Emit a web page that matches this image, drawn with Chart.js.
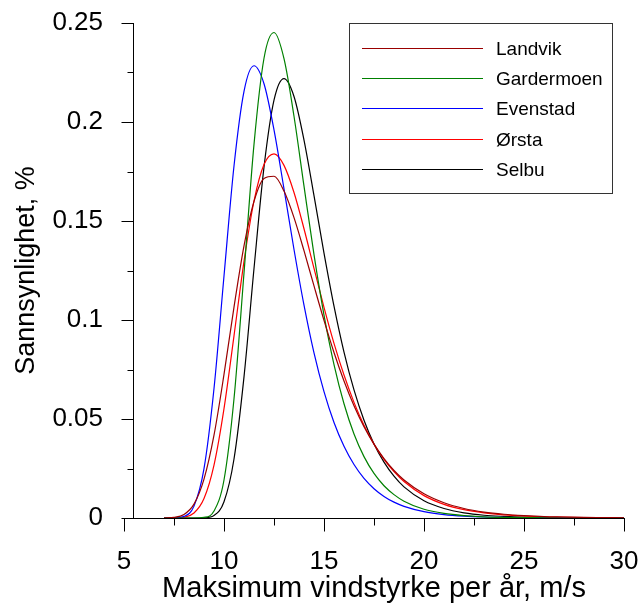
<!DOCTYPE html>
<html>
<head>
<meta charset="utf-8">
<script src="https://cdn.jsdelivr.net/npm/chart.js@4"></script>
<style>
  body { margin: 0; background: #fff; }
</style>
</head>
<body>
<canvas id="chart" width="640" height="606"></canvas>
<script>
const windSpeed = [7, 7.5, 8, 8.5, 9, 9.5, 10, 10.5, 11, 11.5, 12, 12.5, 13, 13.5, 14, 14.5, 15, 15.5, 16, 16.5, 17, 17.5, 18, 18.5, 19, 20, 21, 22, 23, 24, 25, 26, 27, 28, 29, 30];

const landvik = [0, 0.0003, 0.0018, 0.0070, 0.0196, 0.0418, 0.0725, 0.1065, 0.1374, 0.1599, 0.1715, 0.1726, 0.1651, 0.1517, 0.1350, 0.1172, 0.0998, 0.0836, 0.0692, 0.0567, 0.0461, 0.0373, 0.0300, 0.0240, 0.0192, 0.0122, 0.0077, 0.0048, 0.0030, 0.0019, 0.0012, 0.0007, 0.0005, 0.0003, 0.0002, 0.0001];
const gardermoen = [0, 0, 0, 0, 0.0003, 0.0035, 0.0192, 0.0602, 0.1237, 0.1887, 0.2322, 0.2452, 0.2320, 0.2029, 0.1676, 0.1330, 0.1025, 0.0775, 0.0577, 0.0424, 0.0310, 0.0225, 0.0163, 0.0118, 0.0085, 0.0044, 0.0023, 0.0012, 0.0006, 0.0003, 0.0002, 0.0001, 0, 0, 0, 0];
const evenstad = [0, 0, 0.0008, 0.0060, 0.0249, 0.0654, 0.1222, 0.1778, 0.2155, 0.2284, 0.2193, 0.1960, 0.1662, 0.1356, 0.1075, 0.0834, 0.0638, 0.0482, 0.0362, 0.0270, 0.0200, 0.0148, 0.0109, 0.0080, 0.0059, 0.0032, 0.0017, 0.0009, 0.0005, 0.0003, 0.0001, 0.0001, 0, 0, 0, 0];
const orsta = [0, 0, 0.0004, 0.0025, 0.0098, 0.0267, 0.0552, 0.0920, 0.1296, 0.1601, 0.1785, 0.1839, 0.1781, 0.1644, 0.1461, 0.1261, 0.1064, 0.0882, 0.0722, 0.0584, 0.0468, 0.0373, 0.0296, 0.0234, 0.0184, 0.0113, 0.0069, 0.0042, 0.0026, 0.0016, 0.0010, 0.0006, 0.0004, 0.0002, 0.0001, 0.0001];
const selbu = [0, 0, 0, 0, 0.0001, 0.0013, 0.0082, 0.0298, 0.0713, 0.1260, 0.1772, 0.2110, 0.2219, 0.2129, 0.1909, 0.1628, 0.1338, 0.1070, 0.0838, 0.0647, 0.0494, 0.0374, 0.0282, 0.0211, 0.0157, 0.0087, 0.0048, 0.0026, 0.0014, 0.0008, 0.0004, 0.0002, 0.0001, 0.0001, 0, 0];

const stations = ['Landvik', 'Gardermoen', 'Evenstad', 'Ørsta', 'Selbu'];
const colors = ['#990000', '#008000', '#0000ff', '#ff0000', '#000000'];
const series = [landvik, gardermoen, evenstad, orsta, selbu];

const xMajorTicks = [5, 10, 15, 20, 25, 30];
const xMinorTicks = [7.5, 12.5, 17.5, 22.5, 27.5];
const yMajorTicks = [0, 0.05, 0.1, 0.15, 0.2, 0.25];
const yMinorTicks = [0.025, 0.075, 0.125, 0.175, 0.225];

const font = 'Arial, "Liberation Sans", sans-serif';

// y axis line sits a little right of x = 5, ticks point outwards
const axisPlugin = {
    id: 'axisTicks',
    afterDraw(chart) {
        const { ctx, chartArea, scales: { x, y } } = chart;
        ctx.save();
        ctx.strokeStyle = '#000';
        ctx.lineWidth = 1;
        const ax = Math.round(chartArea.left + 9) + 0.5;
        const by = Math.round(chartArea.bottom) + 0.5;
        ctx.beginPath();
        ctx.moveTo(ax, y.getPixelForValue(0.25));
        ctx.lineTo(ax, by);
        yMajorTicks.forEach(v => {
            const py = Math.round(y.getPixelForValue(v)) + 0.5;
            ctx.moveTo(ax - 12, py); ctx.lineTo(ax, py);
        });
        yMinorTicks.forEach(v => {
            const py = Math.round(y.getPixelForValue(v)) + 0.5;
            ctx.moveTo(ax - 6, py); ctx.lineTo(ax, py);
        });
        xMajorTicks.forEach(v => {
            const px = Math.round(x.getPixelForValue(v)) + 0.5;
            ctx.moveTo(px, by); ctx.lineTo(px, by + 13);
        });
        xMinorTicks.forEach(v => {
            const px = Math.round(x.getPixelForValue(v)) + 0.5;
            ctx.moveTo(px, by); ctx.lineTo(px, by + 7);
        });
        ctx.stroke();
        ctx.restore();
    }
};

// boxed legend in the upper right
const boxLegend = {
    id: 'boxLegend',
    afterDraw(chart) {
        const ctx = chart.ctx;
        const left = 349.5, top = 23.5, w = 263, h = 170;
        ctx.save();
        ctx.fillStyle = '#fff';
        ctx.fillRect(left, top, w, h);
        ctx.strokeStyle = '#333';
        ctx.lineWidth = 1;
        ctx.strokeRect(left, top, w, h);
        ctx.font = '19px ' + font;
        ctx.textBaseline = 'middle';
        chart.data.datasets.forEach((ds, i) => {
            const yy = Math.round(48 + 30.2 * i) + 0.5;
            ctx.strokeStyle = ds.borderColor;
            ctx.lineWidth = 1.2;
            ctx.beginPath();
            ctx.moveTo(362, yy);
            ctx.lineTo(483, yy);
            ctx.stroke();
            ctx.fillStyle = '#000';
            ctx.fillText(ds.label, 496, yy + 1);
        });
        ctx.restore();
    }
};

new Chart(document.getElementById('chart'), {
    type: 'line',
    data: {
        labels: windSpeed,
        datasets: stations.map((name, i) => ({
            label: name,
            data: windSpeed.map((w, j) => ({ x: w, y: series[i][j] })),
            borderColor: colors[i],
            backgroundColor: colors[i],
            borderWidth: 1.2,
            pointRadius: 0,
            fill: false,
            cubicInterpolationMode: 'monotone'
        }))
    },
    options: {
        responsive: false,
        animation: false,
        devicePixelRatio: 1,
        layout: { padding: { top: 23, right: 16, left: 0, bottom: 0 } },
        plugins: { legend: { display: false }, tooltip: { enabled: false } },
        scales: {
            x: {
                type: 'linear',
                min: 5, max: 30,
                afterFit: s => { s.height = 88; s.paddingLeft = 0; s.paddingRight = 0; },
                ticks: { stepSize: 5, autoSkip: false, maxRotation: 0, padding: 28, color: '#000', font: { family: font, size: 26 } },
                grid: { drawOnChartArea: false, drawTicks: false },
                border: { display: true, color: '#000', width: 1 },
                title: { display: true, text: 'Maksimum vindstyrke per år, m/s', color: '#000', font: { family: font, size: 29 }, padding: { top: 0, bottom: 0 } }
            },
            y: {
                min: 0, max: 0.25,
                afterFit: s => { s.width = 124; s.paddingTop = 0; s.paddingBottom = 0; },
                ticks: { stepSize: 0.05, padding: 21, color: '#000', font: { family: font, size: 26 },
                    callback: v => String(Number(v.toFixed(3))) },
                grid: { drawOnChartArea: false, drawTicks: false },
                border: { display: false },
                title: { display: true, text: 'Sannsynlighet, %', color: '#000', font: { family: font, size: 27 }, padding: { top: 10, bottom: 0 } }
            }
        }
    },
    plugins: [axisPlugin, boxLegend]
});
</script>
</body>
</html>
